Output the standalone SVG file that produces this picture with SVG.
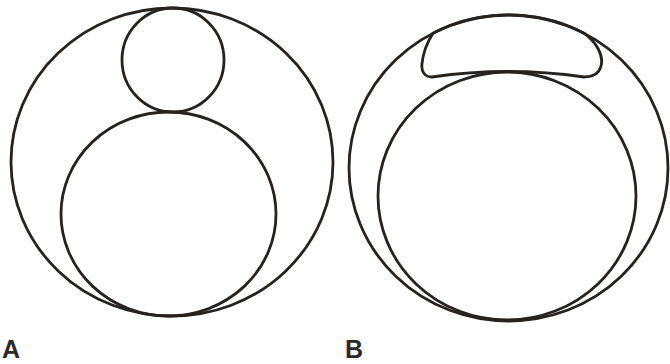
<svg xmlns="http://www.w3.org/2000/svg" width="670" height="364" viewBox="0 0 670 364">
<style>
.s{fill:none;stroke:#262220;stroke-width:2.8}
.lbl{font-family:"Liberation Sans",Arial,sans-serif;font-weight:bold;font-size:25px;fill:#2a2a2a}
</style>
<rect width="670" height="364" fill="#fff"/>
<g id="A">
<ellipse class="s" cx="172" cy="162" rx="161" ry="154"/>
<ellipse class="s" cx="173" cy="60" rx="51" ry="52"/>
<ellipse class="s" cx="168.5" cy="214" rx="107.5" ry="102"/>
<text class="lbl" x="2" y="358">A</text>
</g>
<g id="B">
<ellipse class="s" cx="508.5" cy="168" rx="159.5" ry="153"/>
<path class="s" d="M433,33.2 A159.5,153 0 0 1 584,33.2 C596,42 604,55 601,66 C599,74 592,77 584,77 Q508,66 432,77 C425,77 421,72 422,64 C423,52 428,41 433,33.2 Z"/>
<ellipse class="s" cx="507" cy="196" rx="129" ry="124"/>
<text class="lbl" x="345" y="358">B</text>
</g>
</svg>
